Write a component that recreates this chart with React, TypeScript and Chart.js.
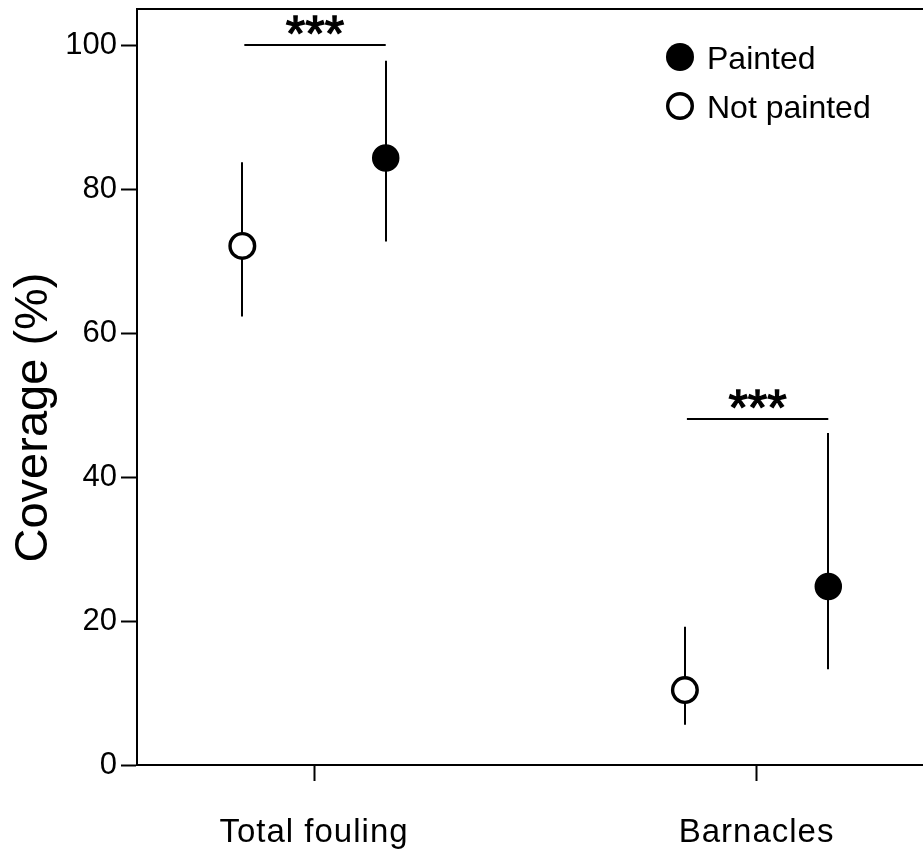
import React, { useEffect, useRef } from 'react';
import { Chart, registerables } from 'chart.js';

Chart.register(...registerables);

// ---- data ----
const categories = ['Total fouling', 'Barnacles'];
const seriesNames = ['Painted', 'Not painted'];
const paintedMean = [84.3, 24.8];
const paintedLower = [72.7, 13.3];
const paintedUpper = [97.8, 46.1];
const notPaintedMean = [72.1, 10.4];
const notPaintedLower = [62.3, 5.6];
const notPaintedUpper = [83.7, 19.2];
const sigLevel = [100, 48];
const sigLabel = ['***', '***'];
const yTicks = [0, 20, 40, 60, 80, 100];
const yTitle = 'Coverage (%)';

const FONT = '"Liberation Sans", Arial, Helvetica, sans-serif';
const DODGE = 0.162;

const errorBarPlugin = {
  id: 'errorBars',
  beforeDatasetsDraw(chart: any) {
    const ctx = chart.ctx;
    const y = chart.scales.y;
    ctx.save();
    ctx.strokeStyle = '#000';
    ctx.lineWidth = 2;
    chart.data.datasets.forEach((ds: any, d: number) => {
      const meta = chart.getDatasetMeta(d);
      meta.data.forEach((pt: any, i: number) => {
        const x = Math.round(pt.x);
        ctx.beginPath();
        ctx.moveTo(x, y.getPixelForValue(ds.lower[i]));
        ctx.lineTo(x, y.getPixelForValue(ds.upper[i]));
        ctx.stroke();
      });
    });
    ctx.restore();
  },
  afterDatasetsDraw(chart: any) {
    // x-axis category labels are drawn after this (ticks z=1): widen them slightly
    try { chart.ctx.letterSpacing = '1px'; } catch (e) {}
  },
  afterDraw(chart: any) {
    const ctx = chart.ctx;
    try { ctx.letterSpacing = '0px'; } catch (e) {}
    const area = chart.chartArea;
    const y = chart.scales.y;
    ctx.save();
    ctx.strokeStyle = '#000';
    ctx.fillStyle = '#000';
    ctx.lineWidth = 2;
    // top frame line
    ctx.beginPath();
    ctx.moveTo(area.left - 1, area.top);
    ctx.lineTo(area.right, area.top);
    ctx.stroke();

    // significance bars
    const pMeta = chart.getDatasetMeta(0);
    const nMeta = chart.getDatasetMeta(1);
    sigLevel.forEach((lvl, i) => {
      const yy = Math.round(y.getPixelForValue(lvl));
      const xa = nMeta.data[i].x + 2;
      const xb = pMeta.data[i].x;
      ctx.lineWidth = 2;
      ctx.beginPath();
      ctx.moveTo(xa, yy);
      ctx.lineTo(xb, yy);
      ctx.stroke();
      ctx.font = `50px ${FONT}`;
      ctx.textAlign = 'center';
      ctx.textBaseline = 'alphabetic';
      const m = ctx.measureText(sigLabel[i]);
      const cy = yy - 20.5;
      const base = cy + (m.actualBoundingBoxAscent - m.actualBoundingBoxDescent) / 2;
      const cx = (xa + xb) / 2;
      ctx.fillText(sigLabel[i], cx, base);
      ctx.lineWidth = 1.3;
      ctx.strokeText(sigLabel[i], cx, base);
    });

    // legend
    const lx = area.left + 543;
    const rows = [area.top + 48, area.top + 97];
    chart.data.datasets.forEach((ds: any, d: number) => {
      const cy = rows[d];
      ctx.beginPath();
      if (d === 0) {
        ctx.arc(lx, cy, 14, 0, Math.PI * 2);
        ctx.fillStyle = '#000';
        ctx.fill();
      } else {
        ctx.arc(lx, cy, 12.3, 0, Math.PI * 2);
        ctx.fillStyle = '#fff';
        ctx.fill();
        ctx.lineWidth = 3.4;
        ctx.strokeStyle = '#000';
        ctx.stroke();
      }
      ctx.fillStyle = '#000';
      ctx.font = `32px ${FONT}`;
      ctx.textAlign = 'left';
      ctx.textBaseline = 'alphabetic';
      ctx.fillText(ds.label, lx + 27, cy + 11.5);
    });

    // y title
    ctx.save();
    ctx.translate(47, 417.5);
    ctx.rotate(-Math.PI / 2);
    ctx.font = `47px ${FONT}`;
    ctx.textAlign = 'center';
    ctx.textBaseline = 'alphabetic';
    ctx.fillStyle = '#000';
    ctx.fillText(yTitle, 0, 0);
    ctx.restore();

    ctx.restore();
  },
};

export default function App() {
  const ref = useRef<HTMLCanvasElement | null>(null);

  useEffect(() => {
    if (!ref.current) return;
    const chart = new Chart(ref.current, {
      type: 'scatter',
      data: {
        datasets: [
          {
            label: seriesNames[0],
            data: categories.map((_, i) => ({ x: i + 1 + DODGE, y: paintedMean[i] })),
            lower: paintedLower,
            upper: paintedUpper,
            backgroundColor: '#000',
            borderColor: '#000',
            borderWidth: 1.5,
            pointRadius: 13,
            pointHoverRadius: 13,
            clip: false,
          } as any,
          {
            label: seriesNames[1],
            data: categories.map((_, i) => ({ x: i + 1 - DODGE, y: notPaintedMean[i] })),
            lower: notPaintedLower,
            upper: notPaintedUpper,
            backgroundColor: '#fff',
            borderColor: '#000',
            borderWidth: 3.4,
            pointRadius: 12.3,
            pointHoverRadius: 12.3,
            clip: false,
          } as any,
        ],
      },
      options: {
        animation: false,
        responsive: true,
        maintainAspectRatio: false,
        layout: { autoPadding: false, padding: { top: 9, left: 0, right: 0, bottom: 0 } },
        plugins: {
          legend: { display: false },
          tooltip: { enabled: false },
          title: { display: false },
        },
        scales: {
          x: {
            type: 'linear',
            min: 0.6,
            max: 2.376,
            afterBuildTicks: (scale: any) => {
              scale.ticks = categories.map((_, i) => ({ value: i + 1 }));
            },
            afterFit: (scale: any) => {
              scale.height = 89;
              scale.paddingLeft = 0;
              scale.paddingRight = 0;
              scale.paddingTop = 0;
              scale.paddingBottom = 0;
            },
            ticks: {
              z: 1,
              autoSkip: false,
              maxRotation: 0,
              padding: 32,
              color: '#000',
              font: { family: FONT, size: 33 },
              callback: (v: any) => categories[Math.round(v) - 1] ?? '',
            },
            grid: {
              drawOnChartArea: false,
              drawTicks: true,
              tickLength: 16,
              tickWidth: 2,
              tickColor: '#000',
            },
            border: { display: true, color: '#000', width: 2 },
          },
          y: {
            type: 'linear',
            min: 0,
            max: 105,
            afterBuildTicks: (scale: any) => {
              scale.ticks = yTicks.map((v) => ({ value: v }));
            },
            afterFit: (scale: any) => {
              scale.width = 137;
              scale.paddingLeft = 0;
              scale.paddingRight = 0;
              scale.paddingTop = 0;
              scale.paddingBottom = 0;
            },
            ticks: {
              padding: 4,
              color: '#000',
              font: { family: FONT, size: 31 },
              callback: (v: any) => String(v),
            },
            grid: {
              drawOnChartArea: false,
              drawTicks: true,
              tickLength: 16,
              tickWidth: 2,
              tickColor: '#000',
            },
            border: { display: true, color: '#000', width: 2 },
          },
        },
      } as any,
      plugins: [errorBarPlugin],
    });
    return () => chart.destroy();
  }, []);

  return (
    <div style={{ position: 'fixed', left: 0, top: 0, width: 923, height: 854, background: '#fff' }}>
      <canvas ref={ref} />
    </div>
  );
}
